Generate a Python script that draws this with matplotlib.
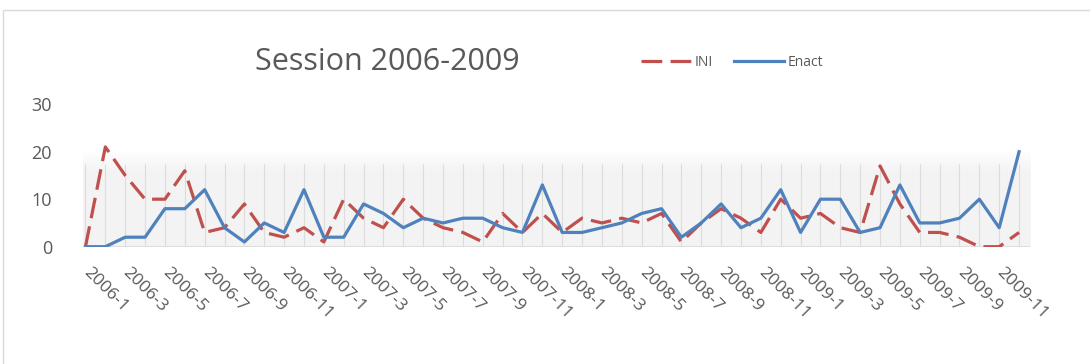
import numpy as np
import matplotlib
matplotlib.use("Agg")
import matplotlib.pyplot as plt
from matplotlib.patches import Rectangle
from matplotlib.lines import Line2D

# ---- data ----
years = [2006, 2007, 2008, 2009]
months = [f"{y}-{m}" for y in years for m in range(1, 13)]
tick_labels = months[::2]
ini = [0, 21, 15, 10, 10, 16, 3, 4, 9, 3, 2, 4,
       1, 10, 6, 4, 10, 6, 4, 3, 1, 7, 3, 7,
       3, 6, 5, 6, 5, 7, 1, 5, 8, 6, 3, 10,
       6, 7, 4, 3, 17, 9, 3, 3, 2, 0, 0, 3]
enact = [0, 0, 2, 2, 8, 8, 12, 4, 1, 5, 3, 12,
         2, 2, 9, 7, 4, 6, 5, 6, 6, 4, 3, 13,
         3, 3, 4, 5, 7, 8, 2, 5, 9, 4, 6, 12,
         3, 10, 10, 3, 4, 13, 5, 5, 6, 10, 4, 20]
title = "Session 2006-2009"
series_names = ["INI", "Enact"]
yticks = [0, 10, 20, 30]

RED = "#C0504D"
BLUE = "#4F81BD"
GRAY = "#595959"

plt.rcParams['font.family'] = ['Open Sans', 'DejaVu Sans']

W, H = 1090, 364
fig = plt.figure(figsize=(W / 100, H / 100), dpi=100)

# outer chart border
fig.patches.append(Rectangle((3 / W, 0 - 0.05), 1.1, 1 - 10 / H + 0.05,
                             transform=fig.transFigure, fill=False,
                             edgecolor="#d9d9d9", linewidth=1.0))

ax_left, ax_right = 82.5, 1030
ax_bottom_px, ax_top_px = 246.7, 104.2
ax = fig.add_axes([ax_left / W, 1 - ax_bottom_px / H,
                   (ax_right - ax_left) / W, (ax_bottom_px - ax_top_px) / H])

x = np.arange(len(months))
ax.set_xlim(-0.15, len(months) - 1 + 0.55)
ax.set_ylim(0, 30)

# soft gray band behind the data
grad_y = np.linspace(0, 20, 200)
alpha = np.clip((20.5 - grad_y) / 5.0, 0, 1)
rgba = np.zeros((200, 1, 4))
rgba[..., 0] = rgba[..., 1] = rgba[..., 2] = 0.955
rgba[:, 0, 3] = alpha
ax.imshow(rgba, extent=(ax.get_xlim()[0], ax.get_xlim()[1], 0, 20),
          origin="lower", aspect="auto", zorder=0, interpolation="bilinear")

# vertical drop grid at every category
ax.vlines(x, 0, 17.5, color="#dcdcdc", linewidth=0.8, zorder=1)
ax.axhline(0, color="#d9d9d9", linewidth=1.2, zorder=1)

ax.plot(x, ini, color=RED, linewidth=2.3, dashes=(6.5, 2.6), zorder=3,
        solid_joinstyle="round", dash_capstyle="butt")
ax.plot(x, enact, color=BLUE, linewidth=2.3, zorder=4,
        solid_joinstyle="round")

for s in ax.spines.values():
    s.set_visible(False)

ax.set_yticks(yticks)
ax.set_yticklabels([str(v) for v in yticks])
ax.tick_params(axis="y", length=0, pad=22, labelsize=13, labelcolor=GRAY)

ax.set_xticks(x[::2])
ax.set_xticklabels(tick_labels)
ax.tick_params(axis="x", length=0, pad=17, labelsize=12.5, labelcolor=GRAY)
for lab in ax.get_xticklabels():
    lab.set_rotation(-45)
    lab.set_ha("left")
    lab.set_va("center")
    lab.set_rotation_mode("anchor")

fig.text(387 / W, 1 - 62 / H, title, ha="center", va="center",
         fontsize=22, color=GRAY)

handles = [Line2D([], [], color=RED, linewidth=2.3, dashes=(6.5, 2.6)),
           Line2D([], [], color=BLUE, linewidth=2.3)]
fig.legend(handles, series_names, loc="center left",
           bbox_to_anchor=(628 / W, 1 - 62 / H), ncol=2, frameon=False,
           fontsize=10, labelcolor=GRAY, handlelength=3.6, handletextpad=0.3,
           columnspacing=1.5)

fig.savefig("out.png", dpi=100)
